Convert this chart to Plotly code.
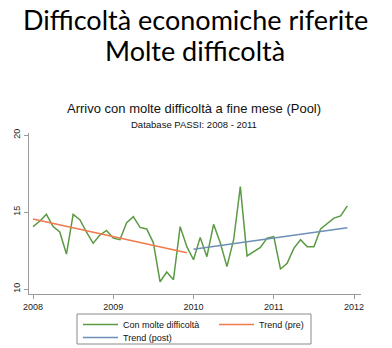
import plotly.graph_objects as go

# Monthly share (%) of people reporting many difficulties making ends meet, 2008-2011
months = list(range(48))
values = [
    14.05, 14.4, 14.85, 14.05, 13.7, 12.27, 14.85, 14.5, 13.7, 12.97, 13.5, 13.8,
    13.3, 13.2, 14.3, 14.7, 14.0, 13.9, 13.0, 10.47, 11.1, 10.6, 14.05, 12.75,
    11.9, 13.35, 12.1, 14.2, 13.0, 11.45, 13.2, 16.65, 12.15, 12.4, 12.7, 13.3,
    13.4, 11.3, 11.67, 12.64, 13.2, 12.75, 12.75, 13.9, 14.25, 14.6, 14.75, 15.4,
]
# Linear trends: endpoints (month index, value)
trend_pre_months = [0, 23]
trend_pre_values = [14.55, 12.35]
trend_post_months = [24, 47]
trend_post_values = [12.58, 13.98]

year_ticks = [2008, 2009, 2010, 2011, 2012]
y_ticks = [10, 15, 20]


def to_year(ms):
    return [2008 + m / 12 for m in ms]


GREEN = "#5b9a43"
ORANGE = "#ef7a4c"
BLUE = "#6e8fb6"
AXIS = "#9a9a9a"

W, H = 392, 348
L, R, T, B = 29, 31, 133, 54
pw = W - L - R
ph = H - T - B


def py(px):
    # pixel row -> paper y
    return (H - B - px) / ph


def px_(x):
    # pixel column -> paper x
    return (x - L) / pw


fig = go.Figure()
fig.add_trace(go.Scatter(x=to_year(months), y=values, mode="lines",
                         name="Con molte difficoltà", legend="legend",
                         line=dict(color=GREEN, width=1.5)))
fig.add_trace(go.Scatter(x=to_year(trend_pre_months), y=trend_pre_values, mode="lines",
                         name="Trend (pre)", legend="legend2",
                         line=dict(color=ORANGE, width=1.5)))
fig.add_trace(go.Scatter(x=to_year(trend_post_months), y=trend_post_values, mode="lines",
                         name="Trend (post)", legend="legend3",
                         line=dict(color=BLUE, width=1.5)))

legend_common = dict(orientation="v", yanchor="top", xanchor="left",
                     bgcolor="rgba(0,0,0,0)", borderwidth=0,
                     font=dict(size=9, color="#111"), itemwidth=35,
                     tracegroupgap=0)

fig.update_layout(
    width=W, height=H,
    margin=dict(l=L, r=R, t=T, b=B, autoexpand=False),
    paper_bgcolor="white", plot_bgcolor="white",
    font=dict(family="Liberation Sans, Arial, sans-serif", color="#111"),
    showlegend=True,
    legend=dict(x=px_(78), y=py(310), **legend_common),
    legend2=dict(x=px_(214), y=py(310), **legend_common),
    legend3=dict(x=px_(78), y=py(323), **legend_common),
    xaxis=dict(range=[2007.95, 2012.087], tickvals=year_ticks,
               ticktext=[str(y) for y in year_ticks],
               showgrid=False, zeroline=False, showline=True, linecolor=AXIS,
               ticks="outside", ticklen=4, tickcolor=AXIS,
               tickfont=dict(size=9, color="#222")),
    yaxis=dict(range=[9.675, 20.13], tickvals=y_ticks, tickangle=-90,
               showgrid=False, zeroline=False, showline=True, linecolor=AXIS,
               ticks="outside", ticklen=4, tickcolor=AXIS,
               tickfont=dict(size=9, color="#222")),
    shapes=[
        # frame around the legend entries
        dict(type="rect", xref="paper", yref="paper",
             x0=px_(77), x1=px_(311), y0=py(344), y1=py(314),
             line=dict(color="#8a8a8a", width=1), fillcolor="rgba(0,0,0,0)"),
    ],
    annotations=[
        dict(text="Difficoltà economiche riferite", x=0.5, xref="paper", y=py(20),
             yref="paper", xanchor="center", yanchor="middle", showarrow=False,
             font=dict(family="Lato, sans-serif", size=27, color="#000")),
        dict(text="Molte difficoltà", x=0.5, xref="paper", y=py(51),
             yref="paper", xanchor="center", yanchor="middle", showarrow=False,
             font=dict(family="Lato, sans-serif", size=27, color="#000")),
        dict(text="Arrivo con molte difficoltà a fine mese (Pool)", x=px_(194),
             xref="paper", y=py(108), yref="paper", xanchor="center", yanchor="middle",
             showarrow=False, font=dict(size=13, color="#111")),
        dict(text="Database PASSI: 2008 - 2011", x=px_(194),
             xref="paper", y=py(124), yref="paper", xanchor="center", yanchor="middle",
             showarrow=False, font=dict(size=9.5, color="#111")),
    ],
)

fig.write_html("out.html")
